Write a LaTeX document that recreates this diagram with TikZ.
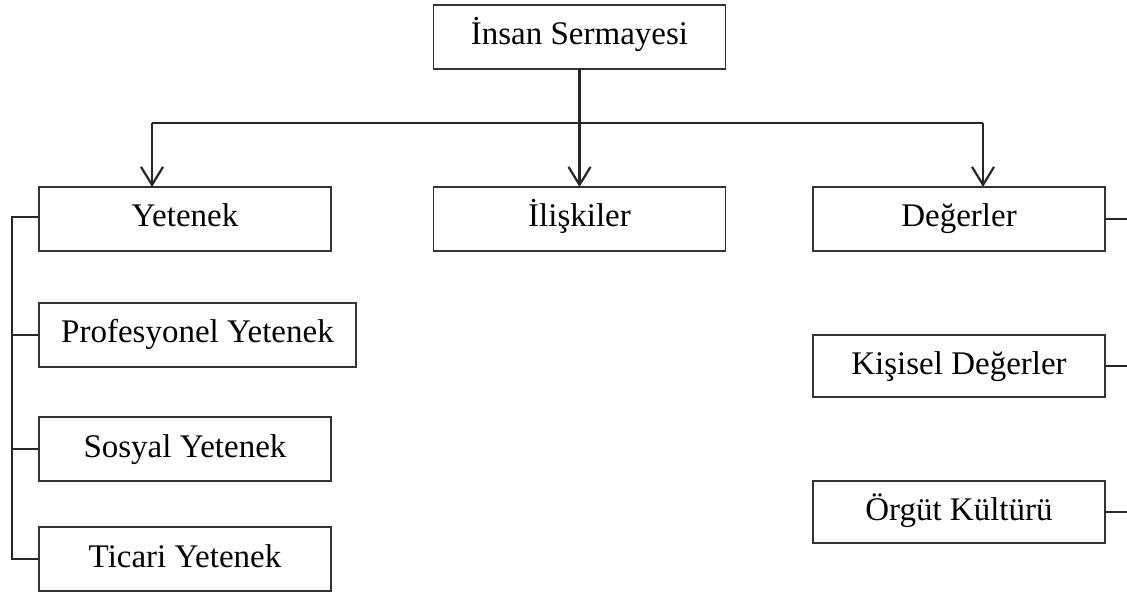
\documentclass[tikz,border=0pt]{standalone}
\usepackage{fontspec}
\setmainfont{Liberation Serif}
\usetikzlibrary{arrows.meta}

\begin{document}
\begin{tikzpicture}[x=0.5pt, y=-0.5pt,
	kutu/.style={draw=black!80, line width=0.7pt, rectangle, minimum width=146pt,
		minimum height=32pt, inner sep=0pt, outer sep=0pt,
		text height=11.5pt, text depth=3.5pt,
		font=\fontsize{16.5}{20}\selectfont},
	hat/.style={draw=black!85, line width=1.1pt},
	ok/.style={hat, -{Straight Barb[length=9pt, width=11pt, line width=1.1pt]}}
	]
					\useasboundingbox (0,0) rectangle (1127,592);

					\node[kutu] (insan) at (579.5, 37) {İnsan Sermayesi};

					\node[kutu] (yetenek) at (185, 219) {Yetenek};
					\node[kutu] (iliskiler) at (579.5, 219) {İlişkiler};
					\node[kutu] (degerler) at (959, 219) {Değerler};

					\node[kutu, minimum width=158.5pt] (profesyonel) at (197.5, 335) {Profesyonel Yetenek};
					\node[kutu] (sosyal) at (185, 449) {Sosyal Yetenek};
					\node[kutu] (ticari) at (185, 559) {Ticari Yetenek};

					\node[kutu, minimum height=31pt] (kisisel) at (959, 366) {Kişisel Değerler};
					\node[kutu, minimum height=31pt] (orgut) at (959, 512) {Örgüt Kültürü};

					\coordinate (sol) at (152, 123);
					\coordinate (sag) at (983, 123);
					\coordinate (solhat) at (12, 217);
					\coordinate (saghat) at (1127, 0);

					% ust dallar
					\draw[hat] (sol) -- (sag);
					\draw[ok] (insan) -- (iliskiler);
					\draw[ok] (sol) -- (sol |- yetenek.north);
					\draw[ok] (sag) -- (sag |- degerler.north);

					% sol kol
					\draw[hat] (yetenek.west |- solhat) -- (solhat) |- (ticari.west);
					\foreach \n in {profesyonel, sosyal}
						\draw[hat] (\n.west) -- (\n.west -| solhat);

					% sag kol
					\foreach \n in {degerler, kisisel, orgut}
						\draw[hat] (\n.east) -- (\n.east -| saghat);
				\end{tikzpicture}
\end{document}
